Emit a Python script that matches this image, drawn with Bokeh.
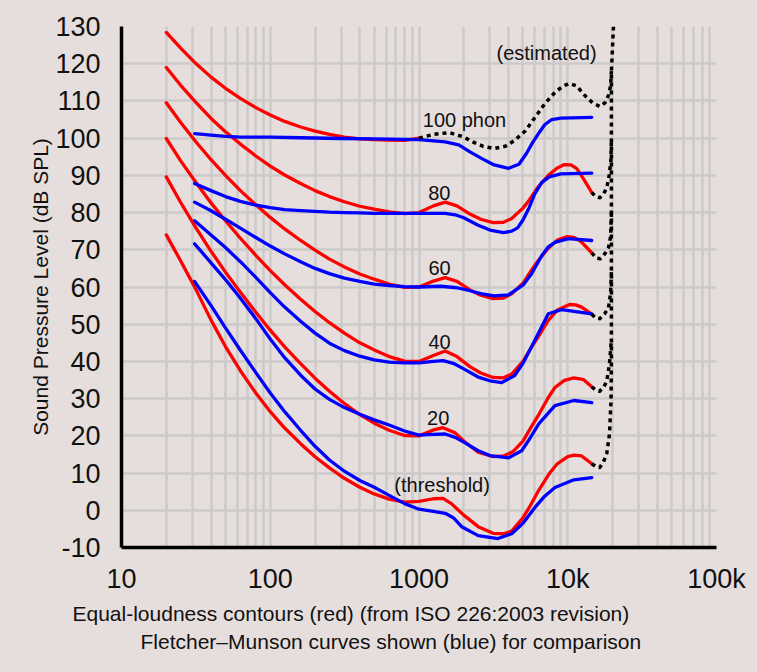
from bokeh.plotting import figure
from bokeh.models import FixedTicker, Label, Title, ColumnDataSource, GlobalInlineStyleSheet
from bokeh.embed import file_html
from bokeh.resources import INLINE

try:
    from bokeh.models import Spline
except ImportError:
    Spline = None

# ---------------- data ----------------
X_TICKS = [10, 100, 1000, 10000, 100000]
X_TICK_LABELS = ["10", "100", "1000", "10k", "100k"]
X_MINOR = [m * d for d in (10, 100, 1000, 10000) for m in range(2, 10)]
Y_TICKS = list(range(-10, 131, 10))
Y_TICK_LABELS = [str(v) for v in Y_TICKS]

# ISO 226:2003 equal-loudness contours (red)
RED_100_F = [20, 25, 31.5, 40, 50, 63, 80, 100, 125, 160, 200, 250, 315, 400, 500, 630, 800, 1000]
RED_100_DB = [128.4, 124.2, 120.1, 116.4, 113.4, 110.7, 108.2, 106.2, 104.5, 103.0, 101.9, 101.0,
              100.3, 99.8, 99.6, 99.5, 99.4, 100.0]

RED_80_F = [20, 25, 31.5, 40, 50, 63, 80, 100, 125, 160, 200, 250, 315, 400, 500, 630, 800, 1000,
            1250, 1500, 1800, 2200, 2600, 3150, 3700, 4200, 5000, 5500, 6300, 7400, 8500, 9500,
            10500, 11500, 12800, 14500]
RED_80_DB = [119.0, 114.2, 109.7, 105.3, 101.7, 98.4, 95.2, 92.5, 90.1, 87.8, 85.9, 84.3, 82.9,
             81.7, 80.9, 80.2, 79.7, 80.0, 81.8, 82.8, 81.8, 79.6, 78.2, 77.3, 77.4, 78.4, 81.2,
             83.3, 86.8, 90.0, 92.0, 92.9, 92.8, 91.8, 89.0, 85.4]

RED_60_F = [20, 25, 31.5, 40, 50, 63, 80, 100, 125, 160, 200, 250, 315, 400, 500, 630, 800, 1000,
            1250, 1500, 1800, 2200, 2600, 3150, 3700, 4200, 5000, 5700, 6300, 7400, 8500, 9800,
            11000, 12200, 14500]
RED_60_DB = [109.5, 104.2, 99.1, 94.2, 90.0, 85.9, 82.1, 78.7, 75.6, 72.5, 69.9, 67.5, 65.4, 63.5,
             62.1, 60.8, 59.9, 60.0, 61.6, 62.5, 61.5, 59.2, 57.8, 56.9, 57.0, 58.2, 61.0, 64.5,
             67.0, 70.4, 72.6, 73.5, 73.3, 72.3, 69.2]

RED_40_F = [20, 25, 31.5, 40, 50, 63, 80, 100, 125, 160, 200, 250, 315, 400, 500, 630, 800, 1000,
            1250, 1500, 1800, 2200, 2600, 3150, 3700, 4200, 5000, 5700, 6300, 7400, 8500, 10300,
            11300, 12400, 14500]
RED_40_DB = [99.9, 93.9, 88.2, 82.6, 77.8, 73.1, 68.5, 64.4, 60.6, 56.7, 53.4, 50.4, 47.6, 45.0,
             43.1, 41.3, 40.1, 40.0, 41.6, 42.8, 41.3, 38.6, 36.9, 35.7, 35.6, 36.6, 40.0, 43.8,
             46.5, 51.0, 53.8, 55.3, 55.2, 54.6, 52.7]

RED_20_F = [20, 25, 31.5, 40, 50, 63, 80, 100, 125, 160, 200, 250, 315, 400, 500, 630, 800, 1000,
            1250, 1450, 1750, 2000, 2500, 3150, 3700, 4300, 5000, 5700, 6400, 7400, 8200, 9500,
            11000, 12800, 14500]
RED_20_DB = [89.6, 82.7, 76.0, 69.6, 64.0, 58.6, 53.2, 48.4, 43.9, 39.4, 35.5, 32.0, 28.7, 25.7,
             23.4, 21.5, 20.1, 20.0, 21.6, 22.2, 20.8, 18.6, 15.6, 14.4, 14.6, 15.8, 18.6, 22.5,
             25.8, 30.3, 33.0, 34.9, 35.6, 35.1, 33.2]

RED_0_F = [20, 25, 31.5, 40, 50, 63, 80, 100, 125, 160, 200, 250, 315, 400, 500, 630, 800, 1000,
           1250, 1450, 1650, 2000, 2500, 3150, 3700, 4200, 5000, 5500, 6300, 7500, 8500, 10000,
           11000, 12400, 14500]
RED_0_DB = [74.0, 67.0, 59.5, 51.1, 44.0, 37.5, 31.5, 26.5, 22.1, 17.9, 14.4, 11.4, 8.6, 6.2, 4.4,
            3.0, 2.2, 2.4, 3.1, 3.2, 1.8, -1.3, -4.4, -6.2, -6.3, -5.6, -2.0, 0.7, 5.0, 9.8, 12.5,
            14.4, 14.8, 14.6, 12.5]

# Fletcher-Munson curves (blue)
BLUE_100_F = [31, 40, 50, 63, 80, 100, 160, 300, 500, 1000, 1500, 1850, 2200, 2650, 3200, 4000,
              4700, 5300, 5800, 6400, 7000, 7800, 9000, 14500]
BLUE_100_DB = [101.2, 100.8, 100.5, 100.3, 100.3, 100.3, 100.1, 99.9, 99.8, 99.6, 99.0, 98.2, 96.3,
               94.5, 92.8, 91.9, 93.0, 96.0, 98.8, 101.4, 103.6, 105.0, 105.4, 105.6]

BLUE_80_F = [31, 40, 50, 63, 80, 100, 125, 160, 200, 250, 315, 400, 500, 1000, 1500, 1750, 2000,
             2500, 3000, 3700, 4200, 4600, 5000, 5500, 6000, 6700, 7500, 9000, 14500]
BLUE_80_DB = [87.8, 85.9, 84.3, 83.0, 82.0, 81.3, 80.8, 80.5, 80.3, 80.1, 80.0, 79.9, 79.8, 79.8,
              79.8, 79.4, 78.6, 76.6, 75.3, 74.6, 75.0, 75.9, 78.0, 81.3, 85.0, 88.1, 89.6, 90.4,
              90.6]

BLUE_60_F = [31, 40, 50, 63, 80, 100, 125, 160, 200, 250, 315, 400, 500, 630, 800, 1000, 1400,
             1800, 2200, 2600, 3200, 4000, 4400, 5000, 5700, 6700, 7400, 8200, 10100, 14500]
BLUE_60_DB = [82.8, 80.5, 78.2, 75.8, 73.3, 71.0, 68.9, 66.8, 65.0, 63.6, 62.4, 61.5, 60.8, 60.4,
              60.1, 60.0, 60.2, 59.8, 59.0, 58.2, 57.6, 57.9, 59.0, 60.5, 63.5, 68.5, 70.8, 72.0,
              73.0, 72.5]

BLUE_40_F = [31, 40, 50, 63, 80, 100, 125, 160, 200, 250, 315, 400, 500, 630, 800, 1000, 1250,
             1450, 1700, 2000, 2500, 3000, 3600, 4400, 5000, 6000, 7400, 9100, 14500]
BLUE_40_DB = [77.8, 74.0, 70.6, 66.8, 62.6, 58.5, 54.6, 50.8, 47.6, 44.9, 42.9, 41.4, 40.4, 39.8,
              39.6, 39.6, 40.0, 40.2, 39.5, 38.0, 35.8, 34.8, 34.3, 36.2, 39.5, 45.6, 52.8, 53.9,
              52.8]

BLUE_20_F = [31, 40, 50, 63, 80, 100, 125, 160, 200, 250, 315, 400, 500, 630, 800, 1000, 1250,
             1500, 1750, 2000, 2500, 3000, 4000, 4900, 5500, 6400, 8200, 11000, 14500]
BLUE_20_DB = [71.6, 66.5, 62.0, 57.0, 51.5, 46.0, 41.0, 36.3, 32.6, 29.8, 27.6, 25.8, 24.3, 22.9,
              21.3, 20.2, 20.4, 20.5, 19.6, 18.3, 16.0, 14.7, 14.1, 16.0, 19.0, 23.3, 28.1, 29.5,
              28.9]

BLUE_0_F = [31, 40, 50, 63, 80, 100, 125, 160, 200, 250, 315, 400, 500, 630, 800, 1000, 1250,
            1500, 1700, 1950, 2500, 3400, 4200, 5000, 6000, 7000, 8200, 11000, 14500]
BLUE_0_DB = [61.5, 55.0, 49.0, 43.0, 37.0, 31.5, 26.5, 21.5, 17.2, 13.5, 10.5, 8.0, 6.2, 4.0, 1.8,
             0.3, -0.3, -0.8, -2.0, -4.5, -6.8, -7.6, -6.3, -3.5, 0.7, 3.8, 6.1, 8.2, 8.8]

# estimated continuations (black dotted)
DOT_100_F = [1000, 1250, 1600, 2000, 2300, 2700, 3200, 3800, 4400, 5200, 6000, 7000, 8200, 9300,
             10300, 11500, 13000, 14700, 16400, 17800, 18800, 19400, 19650]
DOT_100_DB = [100.0, 101.0, 101.5, 100.3, 99.0, 97.8, 97.2, 97.8, 99.4, 102.0, 105.5, 109.2, 112.3,
              114.0, 114.7, 114.0, 111.5, 109.5, 108.5, 109.5, 111.5, 114.0, 118.0]
DOT_80_F = [14500, 15400, 16400, 17400, 18300, 19000, 19500, 19650]
DOT_80_DB = [85.4, 84.3, 84.0, 85.0, 86.7, 90.0, 94.0, 100.0]
DOT_60_F = [14500, 15500, 16600, 17800, 18800, 19400, 19650]
DOT_60_DB = [69.2, 67.8, 67.6, 69.0, 70.6, 73.5, 80.0]
DOT_40_F = [14500, 15500, 16400, 17700, 18800, 19400, 19650]
DOT_40_DB = [52.7, 51.6, 51.5, 52.8, 54.5, 58.3, 64.0]
DOT_20_F = [14500, 15500, 16400, 17500, 18300, 19100, 19650]
DOT_20_DB = [33.2, 32.2, 32.0, 33.2, 34.7, 39.5, 46.0]
DOT_0_F = [14500, 15500, 16400, 17400, 18300, 19100, 19550, 19650, 19650, 20300]
DOT_0_DB = [12.5, 11.7, 11.5, 13.0, 15.3, 20.6, 30.0, 40.0, 118.0, 130.0]

CURVE_LABELS = ["100 phon", "80", "60", "40", "20", "(threshold)", "(estimated)"]
CAPTION_1 = "Equal-loudness contours (red) (from ISO 226:2003 revision)"
CAPTION_2 = "Fletcher\u2013Munson curves shown (blue) for comparison"

# ---------------- styling ----------------
BG = "#e6dedd"
GRID = "#cdcaca"
FONT = "Liberation Sans"
TXT = "#111111"

p = figure(width=750, height=666, x_axis_type="log", x_range=(10, 100000), y_range=(-10, 130),
           output_backend="svg", toolbar_location=None,
           min_border_left=121, min_border_right=34, min_border_top=26, min_border_bottom=119)
p.stylesheets = [GlobalInlineStyleSheet(css="body { background: %s; }" % BG)]
p.background_fill_color = BG
p.border_fill_color = BG
p.outline_line_color = None

p.xaxis.ticker = FixedTicker(ticks=X_TICKS, minor_ticks=X_MINOR)
p.xaxis.major_label_overrides = {t: l for t, l in zip(X_TICKS, X_TICK_LABELS)}
p.yaxis.ticker = FixedTicker(ticks=Y_TICKS)
p.yaxis.major_label_overrides = {t: l for t, l in zip(Y_TICKS, Y_TICK_LABELS)}

for ax in (p.xaxis[0], p.yaxis[0]):
    ax.axis_line_color = "black"
    ax.axis_line_width = 3.5
    ax.major_tick_line_color = None
    ax.minor_tick_line_color = None
    ax.major_tick_out = 0
    ax.major_tick_in = 0
    ax.minor_tick_out = 0
    ax.minor_tick_in = 0
    ax.major_label_text_font = FONT
    ax.major_label_text_font_size = "27px"
    ax.major_label_text_color = TXT

p.xaxis.major_label_standoff = 16
p.yaxis.major_label_standoff = 21
p.yaxis.axis_label = "Sound Pressure Level (dB SPL)"
p.yaxis.axis_label_text_font = FONT
p.yaxis.axis_label_text_font_size = "21px"
p.yaxis.axis_label_text_font_style = "normal"
p.yaxis.axis_label_text_color = TXT
p.yaxis.axis_label_standoff = 0

p.xgrid.grid_line_color = GRID
p.xgrid.grid_line_width = 2.5
p.xgrid.minor_grid_line_color = GRID
p.xgrid.minor_grid_line_width = 2.5
p.ygrid.grid_line_color = GRID
p.ygrid.grid_line_width = 2.5

RED = "#ff0000"
BLUE = "#0000ff"
LW = 3.3


def smooth_line(f, db, color, width):
    if Spline is not None:
        src = ColumnDataSource(dict(x=f, y=db))
        p.add_glyph(src, Spline(x="x", y="y", tension=0.5, line_color=color, line_width=width))
    else:
        p.line(f, db, line_color=color, line_width=width, line_join="round", line_cap="round")


for f, db in [(RED_100_F, RED_100_DB), (RED_80_F, RED_80_DB), (RED_60_F, RED_60_DB),
              (RED_40_F, RED_40_DB), (RED_20_F, RED_20_DB), (RED_0_F, RED_0_DB)]:
    smooth_line(f, db, RED, LW)

for f, db in [(BLUE_100_F, BLUE_100_DB), (BLUE_80_F, BLUE_80_DB), (BLUE_60_F, BLUE_60_DB),
              (BLUE_40_F, BLUE_40_DB), (BLUE_20_F, BLUE_20_DB), (BLUE_0_F, BLUE_0_DB)]:
    smooth_line(f, db, BLUE, LW)

for f, db in [(DOT_100_F, DOT_100_DB), (DOT_80_F, DOT_80_DB), (DOT_60_F, DOT_60_DB),
              (DOT_40_F, DOT_40_DB), (DOT_20_F, DOT_20_DB), (DOT_0_F, DOT_0_DB)]:
    p.line(f, db, line_color="black", line_width=3.5, line_dash="4 4", line_join="round")

# curve labels (position in data units: frequency, dB)
label_pos = [(1060, 104.8, "left"), (1370, 85.2, "center"), (1375, 65.0, "center"),
             (1375, 45.2, "center"), (1345, 24.8, "center"), (1430, 6.8, "center"),
             (7200, 122.8, "center")]
for (x, y, al), txt in zip(label_pos, CURVE_LABELS):
    p.add_layout(Label(x=x, y=y, text=txt, text_align=al, text_baseline="middle",
                       text_font=FONT, text_font_size="20px", text_color=TXT))

# two-line caption under the x axis
for txt, off, so in [(CAPTION_1, -49, 6), (CAPTION_2, 19, 0)]:
    p.add_layout(Title(text=txt, align="left", offset=off, standoff=so,
                       text_font=FONT, text_font_size="21px", text_font_style="normal",
                       text_color=TXT), "below")

open("out.html", "w").write(file_html(p, INLINE))
